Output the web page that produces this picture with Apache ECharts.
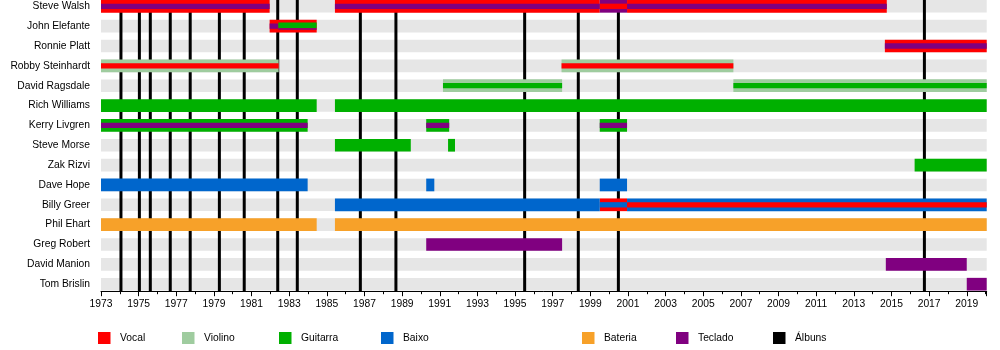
<!DOCTYPE html>
<html><head><meta charset="utf-8">
<script src="https://cdn.jsdelivr.net/npm/echarts@6/dist/echarts.min.js"></script>
<style>html,body{margin:0;padding:0;background:#fff}#c{width:1000px;height:350px}</style>
</head><body><div id="c"></div>
<script>
const members = ['Steve Walsh','John Elefante','Ronnie Platt','Robby Steinhardt','David Ragsdale','Rich Williams','Kerry Livgren','Steve Morse','Zak Rizvi','Dave Hope','Billy Greer','Phil Ehart','Greg Robert','David Manion','Tom Brislin'];
const yearStart = 1973, yearEnd = 2020.06;
const albums = [1974.06,1975.04,1975.62,1976.68,1977.74,1979.29,1980.61,1982.39,1983.43,1986.78,1988.67,1995.51,1998.36,2000.49,2016.75];
const roles = ['Vocal','Violino','Guitarra','Baixo','Bateria','Teclado'];
// [member, from, to, layer]
const vocal = [
 ['Steve Walsh',1973,1981.96,'full'],
 ['Steve Walsh',1985.43,1999.5,'full'],
 ['Steve Walsh',1999.5,2000.95,'inner'],
 ['Steve Walsh',2000.95,2014.75,'full'],
 ['John Elefante',1981.96,1984.46,'full'],
 ['Ronnie Platt',2014.65,yearEnd,'full'],
 ['Robby Steinhardt',1973,1982.44,'inner'],
 ['Robby Steinhardt',1997.47,2006.6,'inner'],
 ['Billy Greer',1999.5,2000.95,'full'],
 ['Billy Greer',2000.95,yearEnd,'inner']
];
const violin = [
 ['Robby Steinhardt',1973,1982.44,'full'],
 ['Robby Steinhardt',1997.47,2006.6,'full'],
 ['David Ragsdale',1991.17,1997.5,'full'],
 ['David Ragsdale',2006.6,yearEnd,'full']
];
const guitar = [
 ['John Elefante',1982.42,1984.46,'upper'],
 ['David Ragsdale',1991.17,1997.5,'inner'],
 ['David Ragsdale',2006.6,yearEnd,'inner'],
 ['Rich Williams',1973,1984.46,'full'],
 ['Rich Williams',1985.43,yearEnd,'full'],
 ['Kerry Livgren',1973,1983.98,'full'],
 ['Kerry Livgren',1990.28,1991.5,'full'],
 ['Kerry Livgren',1999.5,2000.95,'full'],
 ['Steve Morse',1985.43,1989.46,'full'],
 ['Steve Morse',1991.44,1991.81,'full'],
 ['Zak Rizvi',2016.23,yearEnd,'full']
];
const bass = [
 ['Dave Hope',1973,1983.98,'full'],
 ['Dave Hope',1990.28,1990.71,'full'],
 ['Dave Hope',1999.5,2000.95,'full'],
 ['Billy Greer',1985.43,1999.5,'full'],
 ['Billy Greer',1999.5,2000.95,'inner'],
 ['Billy Greer',2000.95,yearEnd,'full']
];
const drums = [
 ['Phil Ehart',1973,1984.46,'full'],
 ['Phil Ehart',1985.43,yearEnd,'full']
];
const keys = [
 ['Steve Walsh',1973,1981.96,'inner'],
 ['Steve Walsh',1985.43,1999.5,'inner'],
 ['Steve Walsh',1999.5,2000.95,'full'],
 ['Steve Walsh',2000.95,2014.75,'inner'],
 ['John Elefante',1981.96,1982.42,'inner'],
 ['John Elefante',1982.42,1984.46,'lower'],
 ['Ronnie Platt',2014.65,yearEnd,'inner'],
 ['Kerry Livgren',1973,1983.98,'inner'],
 ['Kerry Livgren',1990.28,1991.5,'inner'],
 ['Kerry Livgren',1999.5,2000.95,'inner'],
 ['Greg Robert',1990.28,1997.5,'full'],
 ['David Manion',2014.7,2019.0,'full'],
 ['Tom Brislin',2019.0,yearEnd,'full']
];

const colors = {Vocal:'#ff0000',Violino:'#9fcc9f',Guitarra:'#00b000',Baixo:'#0066cc',Bateria:'#f7a129',Teclado:'#800080','Álbuns':'#000000'};
const roleData = {Vocal:vocal,Violino:violin,Guitarra:guitar,Baixo:bass,Bateria:drums,Teclado:keys};
const layers = {full:[-6.35,6.35,1], inner:[-2.65,2.65,2], upper:[-3.6,2.0,3], lower:[2.0,3.7,3]};
const layerNames = Object.keys(layers);
const FONT = "'Liberation Sans',Arial,sans-serif";
const FS = 10.3;

function segRender(color){
  return function(params, api){
    const a = api.coord([api.value(0), api.value(2)]);
    const b = api.coord([api.value(1), api.value(2)]);
    const L = layers[layerNames[api.value(3)]];
    return {type:'rect', z2:L[2], shape:{x:a[0], y:a[1]+L[0], width:b[0]-a[0], height:L[1]-L[0]}, style:{fill:color}};
  };
}

const series = [];
series.push({
  type:'custom', name:'bg', z:1, silent:true,
  data: members.map((m,i)=>[yearStart, yearEnd, i]),
  encode:{x:[0,1], y:2},
  renderItem:function(params, api){
    const a = api.coord([api.value(0), api.value(2)]);
    const b = api.coord([api.value(1), api.value(2)]);
    return {type:'rect', shape:{x:a[0], y:a[1]-6.3, width:b[0]-a[0], height:12.6}, style:{fill:'#e6e6e6'}};
  }
});
roles.forEach(r=>{
  series.push({
    type:'custom', name:r, z:3, itemStyle:{color:colors[r]},
    data: roleData[r].map(s=>[s[1], s[2], members.indexOf(s[0]), layerNames.indexOf(s[3])]),
    encode:{x:[0,1], y:2},
    renderItem: segRender(colors[r])
  });
});
series.push({
  type:'custom', name:'Álbuns', z:2, itemStyle:{color:'#000'},
  data: albums.map(y=>[y]),
  encode:{x:0},
  renderItem:function(params, api){
    const cs = params.coordSys;
    const x = api.coord([api.value(0), 0])[0];
    return {type:'rect', shape:{x:x-1.5, y:cs.y-6.5, width:3, height:cs.height+13.5}, style:{fill:'#000'}};
  }
});

const legendPos = {Vocal:98,Violino:182,Guitarra:279,Baixo:381,Bateria:582,Teclado:676,'Álbuns':773};
const legends = Object.keys(legendPos).map(n=>({
  data:[n], left:legendPos[n], top:332, padding:0, itemWidth:12.5, itemHeight:12, icon:'rect',
  selectedMode:false,
  textStyle:{color:'#000', fontSize:FS, fontFamily:FONT, padding:[0,0,0,4.5]}
}));

const xCommon = {type:'value', min:yearStart, max:yearEnd, offset:7, splitLine:{show:false}};
const option = {
  animation:false,
  grid:{left:101, right:13.3, top:6.3, bottom:65.8, containLabel:false, outerBoundsMode:'none'},
  legend: legends,
  xAxis:[
    Object.assign({}, xCommon, {interval:1, axisLine:{show:true, lineStyle:{color:'#000', width:1}},
      axisTick:{show:true, length:3, lineStyle:{color:'#000'}}, axisLabel:{show:false}}),
    Object.assign({}, xCommon, {interval:2, position:'bottom', axisLine:{show:false},
      axisTick:{show:true, length:5, lineStyle:{color:'#000'}},
      axisLabel:{show:true, margin:8, color:'#000', fontSize:FS, fontFamily:FONT,
        formatter:v=>Number.isInteger(v)?String(v):''}})
  ],
  yAxis:{type:'category', data:members, inverse:true, boundaryGap:false,
    axisLine:{show:false}, axisTick:{show:false}, splitLine:{show:false},
    axisLabel:{margin:11, color:'#000', fontSize:FS, fontFamily:FONT}},
  series: series
};
const chart = echarts.init(document.getElementById('c'), null, {renderer:'canvas'});
chart.setOption(option);
</script></body></html>
